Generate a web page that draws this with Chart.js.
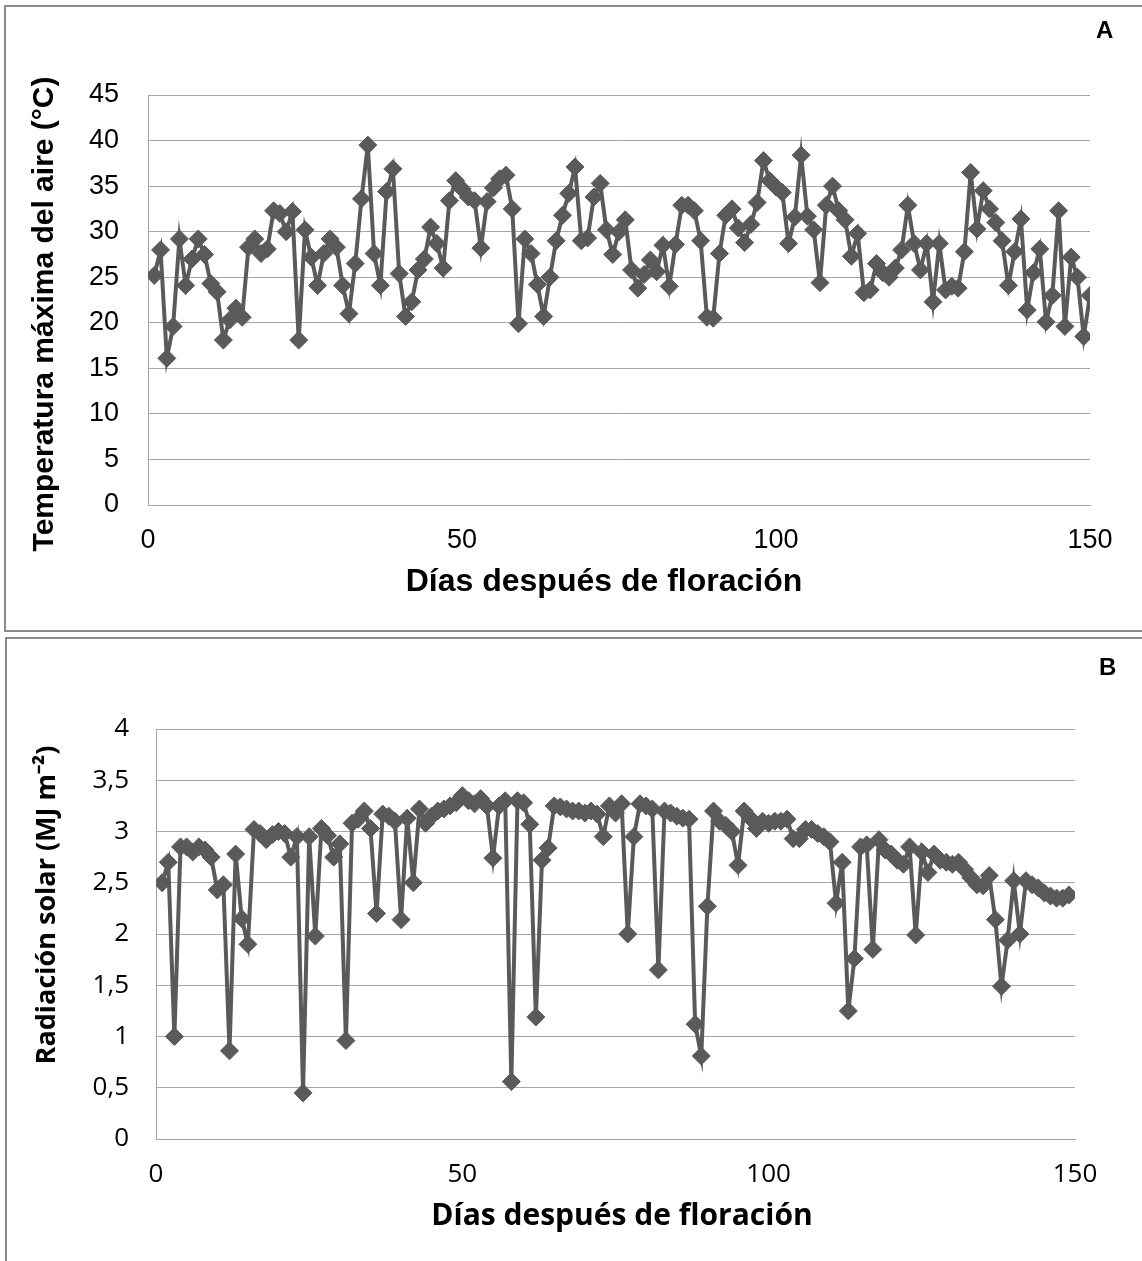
<!DOCTYPE html>
<html>
<head>
<meta charset="utf-8">
<script src="https://cdn.jsdelivr.net/npm/chart.js@4.4.1/dist/chart.umd.min.js"></script>
<style>
  html, body { margin:0; padding:0; background:#fff; width:1142px; height:1261px; overflow:hidden; }
  .panel { position:absolute; border:2px solid #8a8a8a; box-sizing:border-box; }
  #boxA { left:4px; top:5px; width:1150px; height:627px; }
  #boxB { left:5px; top:637px; width:1150px; height:640px; border-bottom:none; }
  canvas { position:absolute; left:0; }
  #cA { top:0; }
  #cB { top:638px; }
  .tag { position:absolute; font-family:"Liberation Sans Narrow","Liberation Sans",sans-serif; font-weight:bold; font-size:24px; color:#000; }
</style>
</head>
<body>
<div class="panel" id="boxA"></div>
<div class="panel" id="boxB"></div>
<canvas id="cA" width="1142" height="632"></canvas>
<canvas id="cB" width="1142" height="623"></canvas>
<div class="tag" style="left:1096px; top:16px;">A</div>
<div class="tag" style="left:1099px; top:653px;">B</div>
<script>
// Panel A: maximum air temperature (°C), one value per day after flowering
const tempMax = [
  25.2, 28.0, 16.1, 19.6, 29.2, 24.1, 27.0, 29.2, 27.5, 24.3,
  23.4, 18.1, 20.3, 21.6, 20.6, 28.3, 29.2, 27.6, 28.1, 32.3,
  32.0, 30.0, 32.2, 18.1, 30.2, 27.2, 24.1, 27.6, 29.2, 28.3,
  24.1, 21.0, 26.5, 33.6, 39.5, 27.6, 24.1, 34.4, 36.9, 25.4,
  20.7, 22.3, 25.8, 27.0, 30.5, 28.7, 26.0, 33.4, 35.6, 34.7,
  33.8, 33.4, 28.2, 33.3, 34.8, 35.8, 36.2, 32.5, 19.9, 29.2,
  27.6, 24.2, 20.7, 25.0, 29.0, 31.8, 34.2, 37.1, 29.0, 29.3,
  33.8, 35.3, 30.2, 27.5, 30.0, 31.3, 25.8, 23.8, 25.3, 26.9,
  25.6, 28.5, 24.0, 28.6, 32.9, 32.9, 32.3, 29.0, 20.6, 20.5,
  27.6, 31.8, 32.5, 30.4, 28.8, 30.8, 33.2, 37.8, 35.6, 34.9,
  34.3, 28.7, 31.6, 38.4, 31.7, 30.2, 24.4, 32.9, 35.0, 32.3,
  31.3, 27.3, 29.8, 23.3, 23.6, 26.5, 25.5, 25.0, 26.0, 28.0,
  32.9, 28.7, 25.8, 28.7, 22.3, 28.7, 23.6, 24.0, 23.8, 27.8,
  36.5, 30.3, 34.5, 32.5, 31.0, 29.0, 24.1, 27.8, 31.4, 21.4,
  25.5, 28.1, 20.1, 23.0, 32.3, 19.6, 27.2, 25.0, 18.5, 23.0
];
// Panel B: solar radiation (MJ m-2), one value per day after flowering
const radSolar = [
  2.5, 2.7, 1.0, 2.85, 2.85, 2.8, 2.85, 2.82, 2.75, 2.43,
  2.48, 0.86, 2.78, 2.15, 1.9, 3.02, 2.98, 2.92, 2.97, 3.0,
  2.98, 2.75, 2.95, 0.45, 2.95, 1.98, 3.03, 2.96, 2.75, 2.88,
  0.96, 3.08, 3.12, 3.2, 3.03, 2.2, 3.17, 3.15, 3.1, 2.14,
  3.13, 2.5, 3.22, 3.08, 3.15, 3.2, 3.22, 3.25, 3.28, 3.35,
  3.3, 3.27, 3.32, 3.25, 2.74, 3.25, 3.3, 0.56, 3.3, 3.28,
  3.07, 1.19, 2.72, 2.84, 3.25, 3.24, 3.22, 3.2, 3.2, 3.18,
  3.2, 3.17, 2.95, 3.25, 3.18, 3.27, 2.0, 2.95, 3.27, 3.25,
  3.22, 1.65, 3.2, 3.18, 3.15, 3.13, 3.12, 1.12, 0.81, 2.27,
  3.2, 3.1, 3.06, 3.0, 2.67, 3.2, 3.13, 3.03, 3.1, 3.08,
  3.1, 3.1, 3.12, 2.93, 2.93, 3.02, 3.02, 2.98, 2.95, 2.9,
  2.3, 2.7, 1.25, 1.76, 2.85, 2.87, 1.85, 2.92, 2.82, 2.78,
  2.72, 2.68, 2.85, 1.99, 2.8, 2.6, 2.78, 2.72, 2.7, 2.68,
  2.7, 2.63, 2.55, 2.48, 2.47, 2.57, 2.14, 1.49, 1.94, 2.52,
  2.0, 2.52, 2.48, 2.45, 2.4, 2.37, 2.35, 2.35, 2.38
];
// Days after flowering (categories)
const diasA = tempMax.map((_, i) => i + 1);
const diasB = radSolar.map((_, i) => i + 1);
// Tick labels
const ticksXA = [0, 50, 100, 150];
const ticksYA = [0, 5, 10, 15, 20, 25, 30, 35, 40, 45];
const ticksXB = [0, 50, 100, 150];
const ticksYB = [0, 0.5, 1, 1.5, 2, 2.5, 3, 3.5, 4];

const tituloX = 'Días después de floración';
const tituloYA = 'Temperatura máxima del aire (°C)';
const tituloYB = 'Radiación solar (MJ m⁻²)';

const GRAY = '#5a5a5a';
const GRID = '#a6a6a6';
const ARIAL = "'Liberation Sans', Arial, sans-serif";
const OPEN = "'Open Sans', sans-serif";

// Axis titles placed where the reference places them
const axisTitles = {
  id: 'axisTitles',
  afterDraw(chart, args, o) {
    const ctx = chart.ctx;
    ctx.save();
    ctx.fillStyle = '#000';
    ctx.textAlign = 'center';
    ctx.textBaseline = 'middle';
    ctx.font = `bold ${o.xSize}px ${o.family}`;
    ctx.fillText(o.xText, o.xPos[0], o.xPos[1]);
    ctx.translate(o.yPos[0], o.yPos[1]);
    ctx.rotate(-Math.PI / 2);
    ctx.font = `bold ${o.ySize}px ${o.family}`;
    ctx.fillText(o.yText, 0, 0);
    ctx.restore();
  }
};

function makeChart(id, xs, ys, xt, yt, opt) {
  const data = xs.map((d, i) => ({ x: d, y: ys[i] }));
  return new Chart(document.getElementById(id), {
    type: 'line',
    data: { datasets: [{
      data,
      borderColor: GRAY,
      borderWidth: 4,
      pointStyle: 'rectRot',
      pointRadius: 9,
      pointBackgroundColor: GRAY,
      pointBorderColor: GRAY,
      pointBorderWidth: 1,
      tension: 0
    }]},
    plugins: [axisTitles],
    options: {
      responsive: false,
      animation: false,
      events: [],
      layout: { padding: opt.pad },
      plugins: {
        legend: { display: false }, tooltip: { enabled: false },
        axisTitles: {
          family: opt.titleFont,
          xText: tituloX, xSize: opt.titleSizeX, xPos: opt.xTitlePos,
          yText: opt.ytitle, ySize: opt.titleSizeY, yPos: opt.yTitlePos
        }
      },
      scales: {
        x: {
          type: 'linear', min: xt[0], max: xt[xt.length - 1],
          afterBuildTicks: s => { s.ticks = xt.map(v => ({ value: v })); },
          afterFit: s => { s.height = opt.xh; },
          grid: { display: false, drawTicks: false },
          border: { display: true, color: GRID, width: 1 },
          ticks: { padding: opt.xpad, color: '#000', font: { family: opt.tickFont, size: opt.tickSize }, maxRotation: 0, autoSkip: false }
        },
        y: {
          min: yt[0], max: yt[yt.length - 1],
          afterBuildTicks: s => { s.ticks = yt.map(v => ({ value: v })); },
          afterFit: s => { s.width = opt.yw; },
          grid: { color: GRID, lineWidth: 1, drawTicks: false },
          border: { display: true, color: GRID, width: 1 },
          ticks: { padding: opt.ypad, color: '#000', font: { family: opt.tickFont, size: opt.tickSize },
                   callback: v => opt.comma ? String(v).replace('.', ',') : String(v) }
        }
      }
    }
  });
}

makeChart('cA', diasA, tempMax, ticksXA, ticksYA, {
  pad: { left: 27, top: 95, right: 52, bottom: 31 },
  xh: 96, yw: 121, xpad: 19, ypad: 29,
  tickFont: ARIAL, tickSize: 27,
  titleFont: ARIAL, titleSizeX: 32, titleSizeY: 30,
  xTitlePos: [604, 582], yTitlePos: [45, 314],
  ytitle: tituloYA, comma: false
});
makeChart('cB', diasB, radSolar, ticksXB, ticksYB, {
  pad: { left: 31, top: 91, right: 67, bottom: 27 },
  xh: 95, yw: 125, xpad: 20, ypad: 27,
  tickFont: OPEN, tickSize: 26,
  titleFont: OPEN, titleSizeX: 30, titleSizeY: 27,
  xTitlePos: [622, 578], yTitlePos: [47, 267],
  ytitle: tituloYB, comma: true
});
</script>
</body>
</html>
